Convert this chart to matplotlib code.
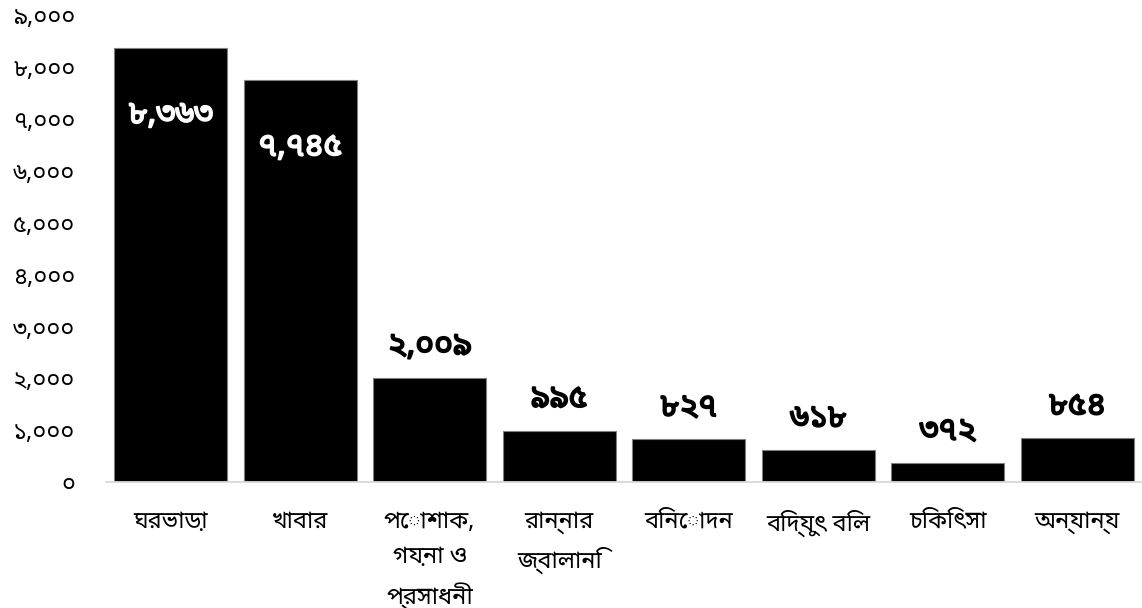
import matplotlib
matplotlib.use("Agg")
import matplotlib.pyplot as plt
import matplotlib.patheffects as pe
from matplotlib.ticker import FuncFormatter, MultipleLocator

# Monthly household spending by category
categories = ["ঘরভাড়া", "খাবার", "পোশাক,\nগয়না ও\nপ্রসাধনী", "রান্নার\nজ্বালানি",
              "বিনোদন", "বিদ্যুৎ বিল", "চিকিৎসা", "অন্যান্য"]
values = [8363, 7745, 2009, 995, 827, 618, 372, 854]

FONT = ["Noto Sans Bengali", "DejaVu Sans"]
BN_DIGITS = str.maketrans("0123456789", "০১২৩৪৫৬৭৮৯")


def bn(n):
    return f"{int(round(n)):,}".translate(BN_DIGITS)


fig = plt.figure(figsize=(11.42, 6.08), dpi=100)
ax = fig.add_axes([0.0928, 0.2068, 0.9072, 0.7685])

x = range(len(categories))
bars = ax.bar(x, values, width=0.87, color="black", edgecolor="#7f7f7f", linewidth=0.8)

ax.set_xlim(-0.5, len(categories) - 0.5)
ax.set_ylim(0, 9000)
ax.yaxis.set_major_locator(MultipleLocator(1000))
ax.yaxis.set_major_formatter(FuncFormatter(lambda v, p: bn(v)))

for s in ("top", "right", "left"):
    ax.spines[s].set_visible(False)
ax.spines["bottom"].set_color("#d9d9d9")
ax.spines["bottom"].set_linewidth(1.3)

ax.set_xticks(list(x))
ax.set_xticklabels(categories, family=FONT, fontsize=17, linespacing=1.6, va="top")
ax.tick_params(axis="x", length=0, pad=20)
ax.tick_params(axis="y", length=0, pad=22, labelsize=17)
for t in ax.get_yticklabels():
    t.set_family(FONT)

for rect, v in zip(bars, values):
    cx = rect.get_x() + rect.get_width() / 2
    if v > 5000:
        col = "white"
        dy = -48
    else:
        col = "black"
        dy = 23
    ax.annotate(bn(v), (cx, v), xytext=(0, dy), textcoords="offset points",
                ha="center", va="center", fontsize=23, color=col, family=FONT,
                path_effects=[pe.withStroke(linewidth=1.3, foreground=col)])

fig.savefig("out.png", dpi=100)
